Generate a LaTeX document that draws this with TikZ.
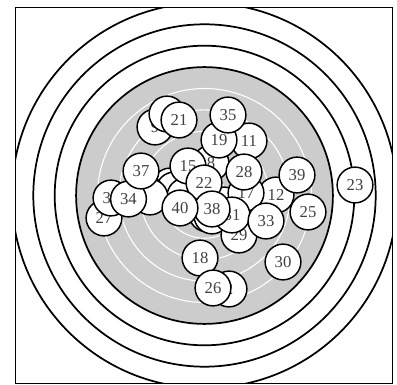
\documentclass[tikz,border=0pt]{standalone}
\usepackage{fontspec}
\setmainfont{Liberation Serif}
\begin{document}
\begin{tikzpicture}[x=0.75pt,y=-0.75pt,
  ring/.style={draw=black,line width=1.3pt},
  wring/.style={draw=white,line width=0.8pt},
  ball/.style={circle,draw=black,fill=white,line width=1.1pt,minimum size=26.8pt,inner sep=0pt,
    font=\fontsize{12.5}{12.5}\selectfont,text=black!75}]
\useasboundingbox (0,0) rectangle (397,385);
\coordinate (c) at (204.5,195.5);
\begin{scope}
  \clip (15.5,7.5) rectangle (392.5,383.5);
  \draw[ring] (c) circle (192.6);
  \draw[ring] (c) circle (171.2);
  \draw[ring] (c) circle (149.8);
  \draw[ring,fill=black!20] (c) circle (128.4);
  \foreach \k in {1,...,5} \draw[wring] (c) circle ({21.4*\k});
\end{scope}
\draw[line width=1.1pt] (15.5,7.5) rectangle (392.5,383.5);
% numbered discs, drawn from bottom to top
\node[ball] (n2) at (229,289) {2};
\node[ball] (n3) at (170,186) {};
\node[ball] (n4) at (174,190) {};
\node[ball] (n5) at (185,196) {};
\node[ball] (n6) at (207,214) {};
\node[ball] (n16) at (212,216) {};
\node[ball] (n7) at (224,205) {};
\node[ball] (n8) at (211,163) {8};
\node[ball] (n9) at (155,127) {9};
\node[ball] (n11) at (249,141) {11};
\node[ball] (n12) at (276,195) {12};
\node[ball] (n14) at (146,193) {};
\node[ball] (n15) at (188,166) {15};
\node[ball] (n17) at (246,193) {17};
\node[ball] (n18) at (200,258) {18};
\node[ball] (n19) at (219,140) {19};
\node[ball] (n20) at (167,114) {};
\node[ball] (n21) at (179,120) {21};
\node[ball] (n22) at (204,183) {22};
\node[ball] (n23) at (355,185) {23};
\node[ball] (n24) at (150,197) {};
\node[ball] (n25) at (308,212) {25};
\node[ball] (n26) at (213,288) {26};
\node[ball] (n27) at (104,218) {27};
\node[ball] (n28) at (244,172) {28};
\node[ball] (n29) at (239,235) {29};
\node[ball] (n30) at (283,262) {30};
\node[ball] (n31) at (232,215) {31};
\node[ball] (n32) at (111,198) {32};
\node[ball] (n33) at (266,221) {33};
\node[ball] (n34) at (128.5,199) {34};
\node[ball] (n35) at (228,115) {35};
\node[ball] (n37) at (141,171) {37};
\node[ball] (n38) at (212,209) {38};
\node[ball] (n39) at (297,175) {39};
\node[ball] (n40) at (180,208) {40};
\end{tikzpicture}
\end{document}
